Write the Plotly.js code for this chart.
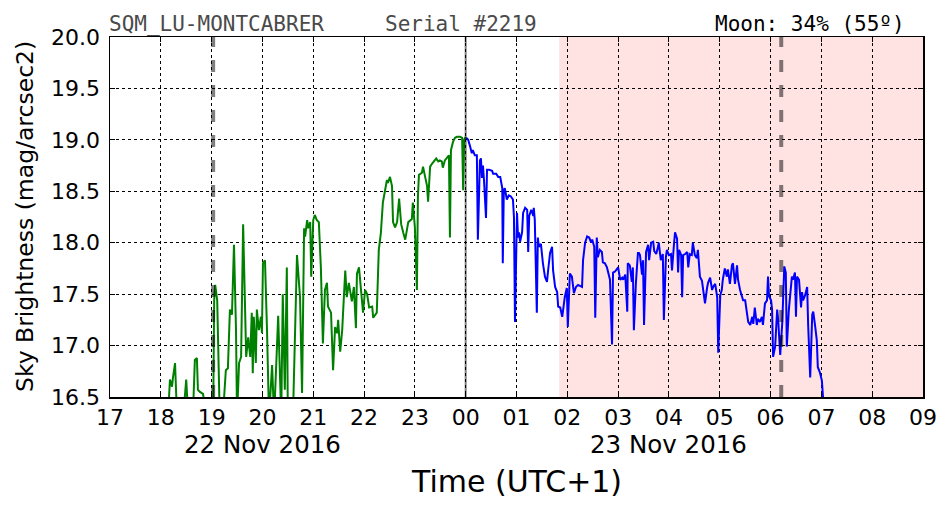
<!DOCTYPE html>
<html>
<head>
<meta charset="utf-8">
<script src="https://cdn.plot.ly/plotly-3.0.1.min.js"></script>
<style>html,body{margin:0;padding:0;background:#fff;}#chart{width:952px;height:512px;}</style>
</head>
<body>
<div id="chart"></div>
<script>
// Hours are continuous from 17 (22 Nov) to 33 (= 09 on 23 Nov)
const tickHours = [17,18,19,20,21,22,23,24,25,26,27,28,29,30,31,32,33];
const tickLabels = ["17","18","19","20","21","22","23","00","01","02","03","04","05","06","07","08","09"];
const dateLabels = ["22 Nov 2016", "23 Nov 2016"];
const dateLabelHours = [20, 28];

const eveningHours = [17.98,18.14,18.18,18.22,18.24,18.28,18.32,18.44,18.50,18.54,18.63,18.67,18.71,18.73,18.77,18.83,18.91,
 19.03,19.05,19.07,19.11,19.13,19.16,19.22,19.28,19.32,19.36,19.40,19.44,19.48,19.50,19.54,19.58,19.62,19.64,19.68,19.72,19.76,19.79,19.81,19.83,19.87,19.89,19.93,19.97,19.99,
 20.01,20.05,20.09,20.11,20.13,20.19,20.23,20.31,20.37,20.40,20.44,20.48,20.50,20.60,20.68,20.74,20.78,20.82,20.84,20.88,20.90,20.94,20.96,
 21.00,21.03,21.07,21.11,21.15,21.17,21.19,21.23,21.27,21.29,21.35,21.39,21.43,21.47,21.49,21.53,21.57,21.59,21.63,21.66,21.70,21.76,21.80,21.84,21.86,21.90,21.96,21.98,
 22.02,22.06,22.10,22.16,22.18,22.25,22.29,22.33,22.37,22.41,22.45,22.47,22.51,22.55,22.57,22.61,22.65,22.69,22.73,22.77,22.81,22.87,22.94,22.96,
 23.00,23.04,23.06,23.08,23.14,23.16,23.20,23.24,23.26,23.30,23.34,23.38,23.42,23.46,23.49,23.53,23.55,23.59,23.63,23.67,23.69,23.71,23.75,23.79,23.83,23.89,23.93,23.95,23.97,23.99,24.01];
const eveningMag = [16.3,16.3,16.67,16.60,16.69,16.83,16.3,16.3,16.67,16.3,16.3,16.86,16.88,16.57,16.55,16.53,16.3,
 16.3,17.44,17.59,17.44,16.60,16.3,16.3,16.76,16.78,17.35,17.30,17.98,17.15,16.3,16.83,16.89,18.18,17.80,16.89,17.08,16.89,17.32,16.73,17.28,16.83,17.35,17.15,17.28,17.12,
 17.80,17.83,17.15,16.67,16.3,16.81,16.3,17.29,16.3,17.50,16.57,17.76,16.3,16.3,17.88,17.47,16.54,18.14,18.06,18.22,18.14,18.20,17.67,
 18.22,18.27,18.22,18.20,17.76,17.39,17.02,17.54,17.61,17.38,17.32,16.76,17.18,17.12,17.25,16.94,17.15,17.35,17.73,17.47,17.61,17.43,17.57,17.17,17.70,17.76,17.44,17.32,
 17.54,17.50,17.37,17.38,17.27,17.32,17.93,18.09,18.39,18.51,18.61,18.58,18.64,18.55,18.20,18.15,18.20,18.43,18.18,18.10,18.03,18.20,18.23,18.39,
 18.15,17.54,18.45,18.66,18.68,18.74,18.64,18.55,18.40,18.74,18.77,18.79,18.82,18.79,18.80,18.79,18.73,18.80,18.83,18.85,18.05,18.90,18.98,19.02,19.03,19.03,19.02,18.51,19.00,19.02,19.02];

const nightHours = [24.01,24.05,24.09,24.12,24.14,24.18,24.22,24.24,24.28,24.30,24.32,24.34,24.36,24.40,24.42,24.46,24.52,24.54,24.60,24.64,24.68,24.72,24.73,24.75,24.77,24.79,24.81,24.85,24.89,24.93,24.95,24.97,
 25.01,25.03,25.05,25.07,25.11,25.13,25.17,25.21,25.23,25.25,25.29,25.33,25.34,25.36,25.40,25.42,25.44,25.48,25.50,25.52,25.56,25.60,25.62,25.66,25.70,25.72,25.76,25.80,25.82,25.86,25.90,25.92,25.95,25.99,
 26.01,26.05,26.09,26.13,26.17,26.21,26.29,26.31,26.35,26.39,26.43,26.47,26.49,26.53,26.55,26.58,26.60,26.64,26.68,26.70,26.74,26.78,26.80,26.84,26.88,26.90,26.94,26.98,
 27.00,27.04,27.08,27.10,27.14,27.18,27.19,27.23,27.27,27.29,27.31,27.35,27.39,27.41,27.43,27.47,27.49,27.51,27.55,27.59,27.61,27.65,27.69,27.71,27.75,27.79,27.80,27.84,27.88,27.90,27.94,27.96,
 28.00,28.04,28.06,28.10,28.12,28.16,28.18,28.20,28.24,28.26,28.28,28.32,28.36,28.38,28.41,28.45,28.47,28.51,28.55,28.57,28.61,28.65,28.67,28.71,28.75,28.77,28.81,28.85,28.87,28.91,28.95,28.97,
 29.01,29.04,29.06,29.10,29.14,29.16,29.20,29.24,29.26,29.30,29.34,29.36,29.40,29.44,29.46,29.50,29.54,29.56,29.60,29.64,29.66,29.69,29.73,29.75,29.79,29.83,29.85,29.89,29.93,29.95,29.97,
 30.01,30.03,30.05,30.09,30.13,30.15,30.19,30.23,30.27,30.30,30.32,30.36,30.42,30.44,30.48,30.50,30.52,30.56,30.60,30.62,30.64,30.68,30.72,30.74,30.78,30.82,30.84,30.88,30.91,30.93,30.97,31.01,31.03,31.06];
const nightMag = [19.02,19.00,18.93,18.87,18.90,18.85,18.85,18.03,18.80,18.82,18.63,18.75,18.61,18.24,18.71,18.71,18.70,18.67,18.67,18.64,18.64,18.53,17.80,18.51,18.53,18.48,18.42,18.46,18.45,18.42,18.25,17.23,
 18.29,18.05,18.10,18.01,18.10,18.29,18.34,18.32,17.91,18.26,18.32,18.26,18.34,18.22,17.32,18.05,17.96,17.99,17.89,17.80,17.67,17.62,17.72,17.90,17.96,17.73,17.57,17.52,17.38,17.37,17.28,17.38,17.47,17.56,
 17.18,17.70,17.67,17.51,17.57,17.59,17.57,17.83,18.00,18.06,18.05,18.00,18.03,17.96,17.27,18.05,17.86,17.93,17.91,17.81,17.80,17.76,17.72,17.64,17.01,17.71,17.72,17.75,
 17.76,17.64,17.66,17.64,17.69,17.33,17.80,17.78,17.62,17.76,17.15,17.61,17.90,17.90,17.88,17.69,17.83,17.20,17.91,17.98,17.83,18.00,18.01,17.92,17.89,17.97,18.00,17.83,17.89,17.25,17.86,17.93,
 17.88,17.89,17.73,17.99,18.10,18.04,17.71,17.93,17.88,17.47,17.88,17.89,17.91,17.76,17.89,17.88,18.00,17.88,17.85,17.93,17.67,17.63,17.56,17.41,17.56,17.61,17.66,17.54,17.57,17.60,17.47,16.93,
 17.49,17.54,17.64,17.75,17.67,17.74,17.60,17.78,17.80,17.60,17.78,17.64,17.54,17.46,17.44,17.44,17.28,17.23,17.20,17.28,17.21,17.37,17.20,17.26,17.23,17.28,17.20,17.41,17.44,17.67,17.48,
 17.44,17.35,16.89,16.99,17.35,17.25,16.91,17.22,17.77,17.71,16.99,17.35,17.67,17.64,17.71,17.28,17.67,17.64,17.37,17.52,17.44,17.49,17.57,17.20,16.69,17.30,17.33,17.18,17.05,16.79,16.74,16.66,16.45,16.3];

const moonRiseHour = 25.84;   // start of shaded (moon up) span
const markerHours = [19.03, 30.21];  // dashed vertical markers
const midnightHour = 24;

const shapes = [
  {type:'rect', xref:'x', yref:'paper', x0:moonRiseHour, x1:33, y0:0, y1:1, fillcolor:'#ffe3e3', line:{width:0}, layer:'below'},
  {type:'line', xref:'x', yref:'paper', x0:midnightHour, x1:midnightHour, y0:0, y1:1, line:{color:'rgba(0,0,0,0.5)', width:2}, layer:'above'}
];
markerHours.forEach(h => shapes.push({type:'line', xref:'x', yref:'paper', x0:h, x1:h, y0:0, y1:1,
  line:{color:'rgba(0,0,0,0.5)', width:4, dash:'12px,13px'}, layer:'above'}));

const annotations = [
  {xref:'paper', yref:'paper', x:-0.004, y:1.035, xanchor:'left', yanchor:'middle', showarrow:false,
   text:'SQM_LU-MONTCABRER', font:{family:'DejaVu Sans Mono', size:21, color:'#4a4a4a'}},
  {xref:'paper', yref:'paper', x:0.336, y:1.035, xanchor:'left', yanchor:'middle', showarrow:false,
   text:'Serial #2219', font:{family:'DejaVu Sans Mono', size:21, color:'#4a4a4a'}},
  {xref:'paper', yref:'paper', x:0.98, y:1.035, xanchor:'right', yanchor:'middle', showarrow:false,
   text:'Moon: 34% (55º)', font:{family:'DejaVu Sans Mono', size:21, color:'#000'}},
  {xref:'paper', yref:'paper', x:0.5, y:-0.236, xanchor:'center', yanchor:'middle', showarrow:false,
   text:'Time (UTC+1)', font:{family:'DejaVu Sans', size:30, color:'#000'}},
  {xref:'paper', yref:'paper', x:-0.1045, y:0.5, xanchor:'center', yanchor:'middle', showarrow:false, textangle:-90,
   text:'Sky Brightness (mag/arcsec2)', font:{family:'DejaVu Sans', size:23.5, color:'#000'}}
];
dateLabels.forEach((t,i) => annotations.push({xref:'x', yref:'paper', x:dateLabelHours[i], y:-0.133,
  xanchor:'center', yanchor:'middle', showarrow:false, text:t, font:{family:'DejaVu Sans', size:24.5, color:'#000'}}));

const traces = [
  {x:eveningHours, y:eveningMag, type:'scatter', mode:'lines', line:{color:'#008000', width:2}, hoverinfo:'skip'},
  {x:nightHours, y:nightMag, type:'scatter', mode:'lines', line:{color:'#0000ff', width:2}, hoverinfo:'skip'}
];

const axisCommon = {showline:true, linecolor:'#000', linewidth:1.5, mirror:'ticks', ticks:'inside', ticklen:5, tickcolor:'#000',
  showgrid:true, gridcolor:'#000', gridwidth:1, griddash:'dot', zeroline:false,
  tickfont:{family:'DejaVu Sans', size:22, color:'#000'}};

const layout = {
  width:952, height:512,
  margin:{l:110, r:29, t:37, b:115},
  paper_bgcolor:'#fff', plot_bgcolor:'#fff',
  showlegend:false,
  xaxis:Object.assign({}, axisCommon, {range:[17,33], tickmode:'array', tickvals:tickHours, ticktext:tickLabels}),
  yaxis:Object.assign({}, axisCommon, {range:[16.5,20], tickmode:'linear', tick0:16.5, dtick:0.5, tickformat:'.1f', ticklabelstandoff:4}),
  shapes:shapes,
  annotations:annotations
};

Plotly.newPlot('chart', traces, layout, {staticPlot:true, displayModeBar:false});
</script>
</body>
</html>
